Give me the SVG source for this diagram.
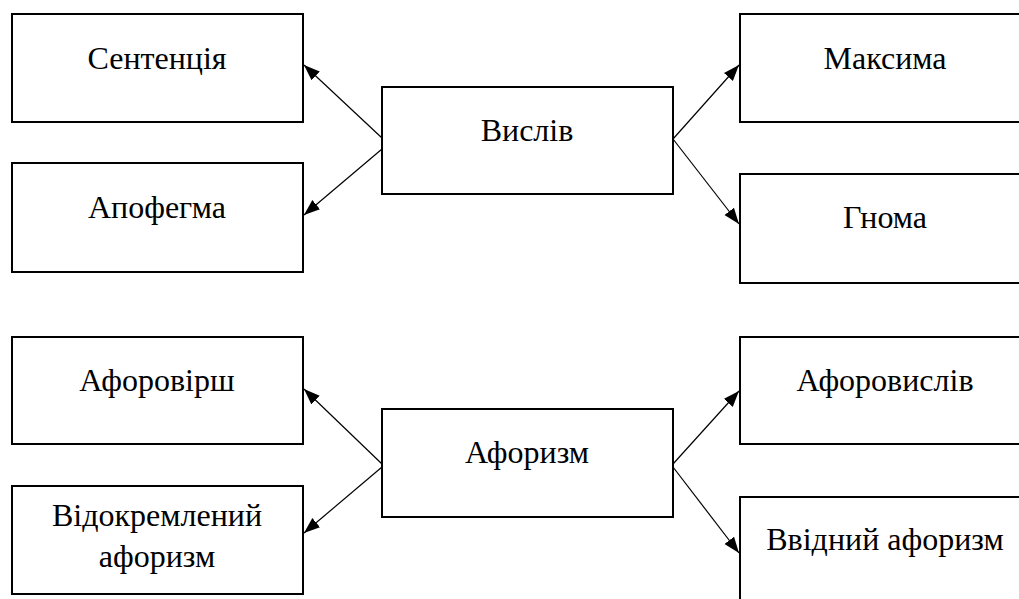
<svg xmlns="http://www.w3.org/2000/svg" width="1019" height="599" viewBox="0 0 1019 599">
<style>
.box{fill:#fff;stroke:#000;stroke-width:2}
.lbl{font-family:'Liberation Serif','DejaVu Serif',serif;font-size:32px;font-weight:400;fill:#000;text-anchor:middle}
.edge{stroke:#000;stroke-width:1.2;fill:none;marker-end:url(#ah)}
</style>
<defs>
<marker id="ah" markerUnits="userSpaceOnUse" markerWidth="18" markerHeight="14" refX="16" refY="6" orient="auto">
<path d="M0,0 L16,6 L0,12 Z" fill="#000"/>
</marker>
</defs>
<rect width="1019" height="599" fill="#fff"/>
<g id="connectors">
<line class="edge" x1="382" y1="138" x2="304" y2="65"/>
<line class="edge" x1="382" y1="149" x2="304" y2="215"/>
<line class="edge" x1="673" y1="139" x2="739" y2="65"/>
<line class="edge" x1="673" y1="139" x2="739" y2="224"/>
<line class="edge" x1="382" y1="464" x2="304" y2="389"/>
<line class="edge" x1="382" y1="467" x2="304" y2="533"/>
<line class="edge" x1="673" y1="464" x2="739" y2="391"/>
<line class="edge" x1="673" y1="467" x2="739" y2="553"/>
</g>
<g id="n-sententsiia"><rect class="box" x="12" y="14" width="291" height="108"/><text class="lbl" x="157" y="69">Сентенція</text></g>
<g id="n-apofehma"><rect class="box" x="12" y="163" width="291" height="109"/><text class="lbl" x="157" y="218">Апофегма</text></g>
<g id="n-vysliv"><rect class="box" x="382" y="87" width="291" height="107"/><text class="lbl" x="527" y="141">Вислів</text></g>
<g id="n-maksyma"><rect class="box" x="740" y="14" width="291" height="108"/><text class="lbl" x="885" y="69">Максима</text></g>
<g id="n-hnoma"><rect class="box" x="740" y="174" width="291" height="109"/><text class="lbl" x="885" y="228">Гнома</text></g>
<g id="n-aforovirsh"><rect class="box" x="12" y="337" width="291" height="107"/><text class="lbl" x="157" y="391">Афоровірш</text></g>
<g id="n-vidokremlenyi"><rect class="box" x="12" y="486" width="291" height="108"/><text class="lbl" x="157" y="526">Відокремлений</text><text class="lbl" x="157" y="567">афоризм</text></g>
<g id="n-aforyzm"><rect class="box" x="382" y="409" width="291" height="108"/><text class="lbl" x="527" y="463">Афоризм</text></g>
<g id="n-aforovysliv"><rect class="box" x="740" y="337" width="291" height="107"/><text class="lbl" x="885" y="391">Афоровислів</text></g>
<g id="n-vvidnyi"><rect class="box" x="740" y="497" width="291" height="120"/><text class="lbl" x="885" y="550">Ввідний афоризм</text></g>
</svg>
